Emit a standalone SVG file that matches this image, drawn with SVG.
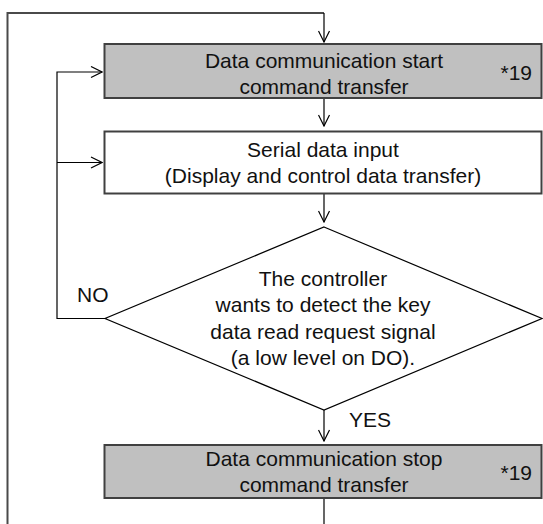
<svg xmlns="http://www.w3.org/2000/svg" width="543" height="524" viewBox="0 0 543 524">
  <style>
    .box { stroke: #404040; stroke-width: 2; }
    .gray { fill: #c0c0c0; }
    .white { fill: #ffffff; }
    .t { font-family: "Liberation Sans", Arial, sans-serif; font-size: 21px; fill: #111111; }
    .c { text-anchor: middle; }
    .ln { fill: none; stroke: #000000; stroke-width: 1.2; }
    .outer { fill: none; stroke: #4a4a4a; stroke-width: 2; }
  </style>
  <defs>
    <marker id="arr" viewBox="0 0 13 13" refX="12" refY="6.5" markerWidth="13" markerHeight="13" markerUnits="userSpaceOnUse" orient="auto">
      <path d="M1,1 L12,6.5 L1,12" fill="none" stroke="#000000" stroke-width="1.2"/>
    </marker>
  </defs>
  <rect width="543" height="524" fill="#ffffff"/>

  <g id="connectors">
    <path class="outer" d="M7.5,524 V13 H324"/>
    <path class="ln" d="M324,13 V42" marker-end="url(#arr)"/>
    <path class="ln" d="M324,98 V126" marker-end="url(#arr)"/>
    <path class="ln" d="M105,318.5 H57 V72 H102" marker-end="url(#arr)"/>
    <path class="ln" d="M57,162.5 H102" marker-end="url(#arr)"/>
    <path class="ln" d="M324,194 V222" marker-end="url(#arr)"/>
    <path class="ln" d="M324,410 V441" marker-end="url(#arr)"/>
    <path class="ln" d="M324,498 V524"/>
    <text class="t" x="77" y="302">NO</text>
    <text class="t" x="349" y="427">YES</text>
  </g>

  <g id="start">
    <rect class="box gray" x="104.5" y="44" width="437" height="54"/>
    <text class="t c" x="324" y="67.5">Data communication start</text>
    <text class="t c" x="324" y="93.5">command transfer</text>
    <text class="t" x="500.5" y="80">*19</text>
  </g>

  <g id="serial">
    <rect class="box white" x="104.5" y="131.5" width="437" height="62"/>
    <text class="t c" x="323" y="156.5">Serial data input</text>
    <text class="t c" x="323" y="183">(Display and control data transfer)</text>
  </g>

  <g id="decision">
    <polygon points="324,227 542,318.5 324,410 105,318.5" fill="#ffffff" stroke="#000000" stroke-width="1.2"/>
    <text class="t c" x="323" y="285.5">The controller</text>
    <text class="t c" x="323" y="312">wants to detect the key</text>
    <text class="t c" x="323" y="338.5">data read request signal</text>
    <text class="t c" x="323" y="365">(a low level on DO).</text>
  </g>

  <g id="stop">
    <rect class="box gray" x="104.5" y="445" width="437" height="53"/>
    <text class="t c" x="324" y="466">Data communication stop</text>
    <text class="t c" x="324" y="492">command transfer</text>
    <text class="t" x="500.5" y="480">*19</text>
  </g>
</svg>
